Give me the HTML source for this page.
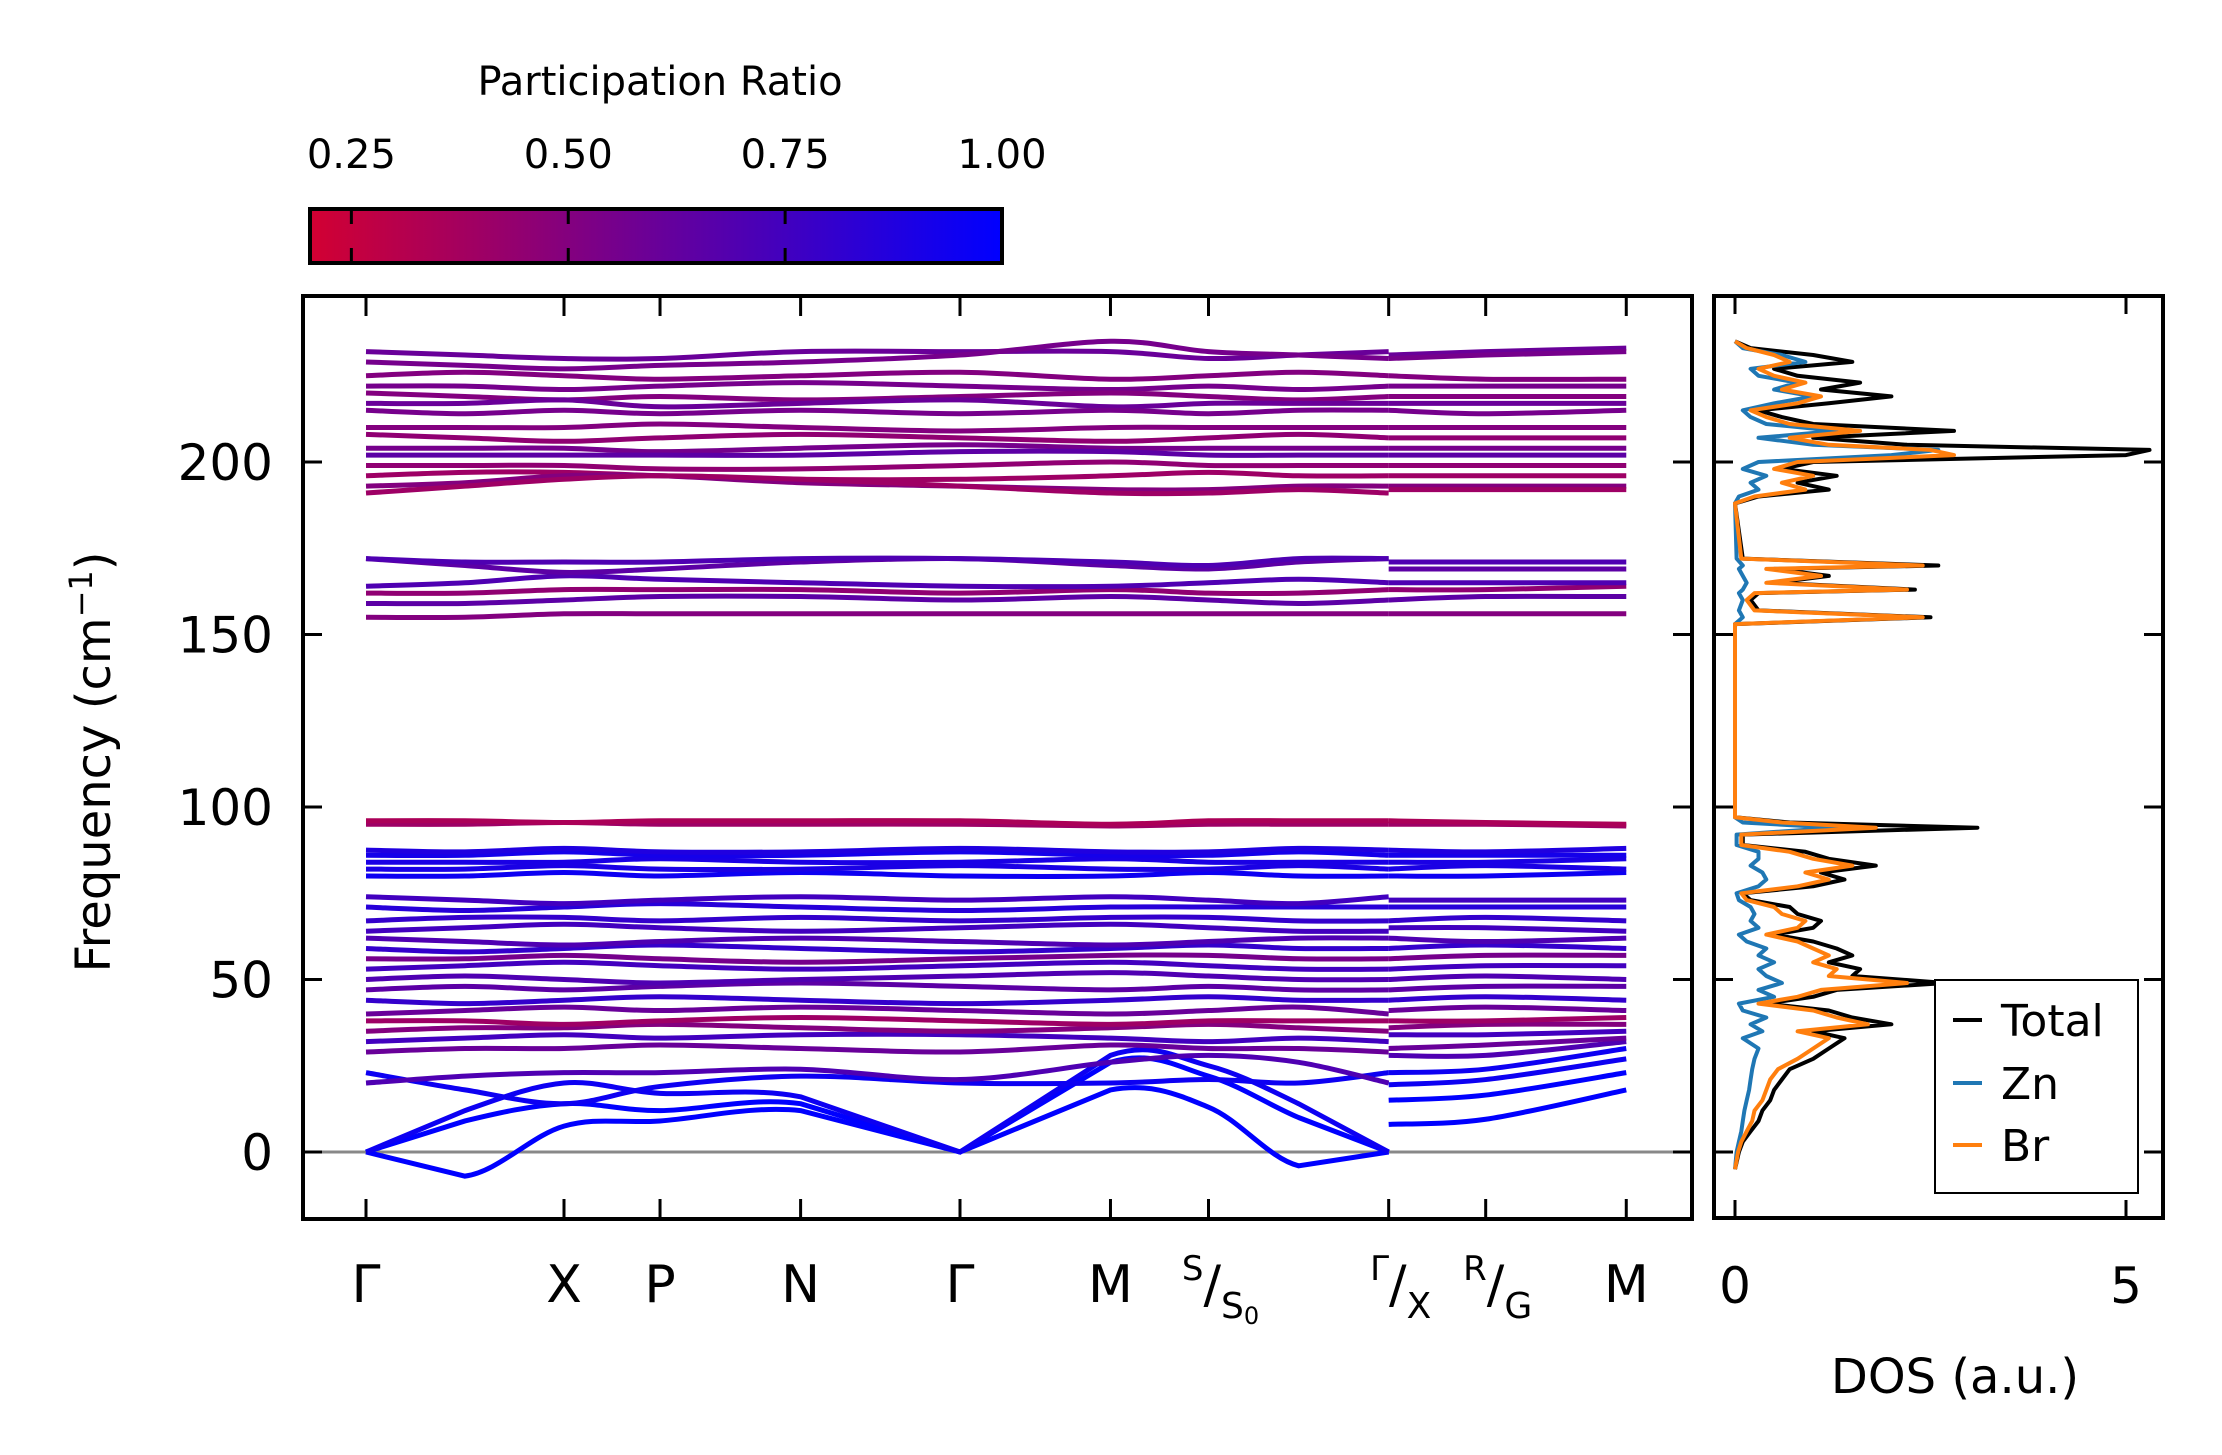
<!DOCTYPE html>
<html><head><meta charset="utf-8"><style>
html,body{margin:0;padding:0;background:#fff}
svg{display:block}
text{font-family:"DejaVu Sans","Liberation Sans",sans-serif;fill:#000}
</style></head><body>
<svg id="fig" width="2222" height="1455" viewBox="0 0 2222 1455" xmlns="http://www.w3.org/2000/svg">
<defs>
<linearGradient id="cbgrad" x1="0" x2="1" y1="0" y2="0">
<stop offset="0" stop-color="rgb(210,0,50)"/><stop offset="1" stop-color="rgb(0,0,255)"/>
</linearGradient>
<clipPath id="mainclip"><rect x="303" y="296" width="1389" height="923"/></clipPath>
<clipPath id="dosclip"><rect x="1714" y="296" width="449" height="922"/></clipPath>
</defs>
<g id="colorbar">
<text x="660" y="95" font-size="40" text-anchor="middle">Participation Ratio</text>
<rect x="310" y="209" width="692" height="54" fill="url(#cbgrad)" stroke="#000" stroke-width="4"/>
</g>
<g id="main">
<g id="bands" clip-path="url(#mainclip)"></g>
<rect x="303" y="296" width="1389" height="923" fill="none" stroke="#000" stroke-width="4"/>
<text transform="translate(110,762) rotate(-90)" font-size="48" text-anchor="middle">Frequency (cm<tspan dy="-18" font-size="32">−1</tspan><tspan dy="18">)</tspan></text>
</g>
<g id="dos">
<g id="doslines" clip-path="url(#dosclip)"></g>
<rect x="1714" y="296" width="449" height="922" fill="none" stroke="#000" stroke-width="4"/>
<text x="1955" y="1393" font-size="48" text-anchor="middle">DOS (a.u.)</text>
<g>
<rect x="1935" y="980" width="203" height="213" fill="#fff" stroke="#000" stroke-width="2"/>
<line x1="1953" x2="1982" y1="1020" y2="1020" stroke="#000" stroke-width="4"/>
<text x="2001" y="1036" font-size="44">Total</text>
<line x1="1953" x2="1982" y1="1083" y2="1083" stroke="#1f77b4" stroke-width="4"/>
<text x="2001" y="1099" font-size="44">Zn</text>
<line x1="1953" x2="1982" y1="1145" y2="1145" stroke="#ff7f0e" stroke-width="4"/>
<text x="2001" y="1161" font-size="44">Br</text>
</g>
</g>
</svg>
<script>
const cbTicks = [0.25, 0.5, 0.75, 1.0];
const cbTickLabels = ["0.25", "0.50", "0.75", "1.00"];
const yTicks = [0, 50, 100, 150, 200];
const kLabels = ["Γ", "X", "P", "N", "Γ", "M", "S/S0", "Γ/X", "R/G", "M"];
const kTickPos = [0, 1.0, 1.485, 2.195, 3.0, 3.76, 4.255, 5.165, 5.655, 6.365];
const path1K = [0, 0.5, 1.0, 1.485, 2.195, 3.0, 3.76, 4.255, 4.71, 5.165];
const path2K = [5.165, 5.655, 6.365];
const bandFreqs = [
[0,-7,7.5,9,12,0,18,13,-4,0, 8,9.5,18],
[0,9,14,12,14,0,26,22,10,0, 15,16.5,23],
[0,12,20,17,16,0,28,25,14,0, 19.5,21,27],
[23,18,14,19,22,20,20,21,20,23, 23,24,30],
[20,22,23,23,24,21,26,28,26,20, 28,28,32],
[29,30,30,31,30,29,31,30,30,29, 30,31,33],
[32,33,34,33,34,34,33,32,33,32, 34,34,35],
[35,36,36,37,36,35,36,37,36,35, 36,37,37],
[38,38,37,38,39,38,37,38,38,38, 38,38,39],
[40,41,42,41,42,41,40,41,42,40, 41,42,41],
[44,43,44,45,44,43,44,45,44,44, 44,45,44],
[47,48,47,48,49,48,47,48,47,47, 47,48,48],
[50,51,50,49,50,51,52,51,50,50, 50,51,50],
[53,54,55,54,53,54,55,54,53,53, 53,54,54],
[56,56,57,56,55,56,57,57,56,56, 56,57,57],
[59,58,59,60,59,58,59,60,59,59, 59,60,59],
[62,61,60,61,62,61,60,61,62,62, 62,61,62],
[64,65,66,65,64,65,66,65,64,64, 65,65,64],
[67,68,68,67,68,67,68,68,67,67, 67,68,67],
[71,70,71,72,71,70,71,71,71,71, 71,71,71],
[74,73,72,73,74,73,74,73,72,74, 73,73,73],
[80,80,81,80,81,80,80,81,80,80, 80,80,81],
[82,82,83,82,82,83,82,82,83,82, 82,83,82],
[84,84,84,85,84,84,85,84,84,84, 84,84,85],
[86,86,87,86,86,87,86,86,87,86, 86,86,86],
[87.5,87,88,87,87,88,87,87,88,87.5, 87.5,87,88],
[95,95,95.5,95,95,95,94.5,95,95,95, 95,95,94.5],
[96,96,95.5,96,96,96,95,96,96,96, 96,95.5,95],
[155,155,156,156,156,156,156,156,156,156, 156,156,156],
[159,159,160,161,161,160,161,160,159,160, 160,161,161],
[162,162,163,163,163,162,163,162,162,163, 163,163,164],
[164,165,167,166,165,164,164,165,166,165, 165,165,165],
[172,170,168,169,171,172,170,169,171,172, 169,169,169],
[172,171,171,171,172,172,171,170,172,172, 171,171,171],
[232,231,230,230,232,232,232,230,231,232, 231,232,233],
[229,228,227,228,229,231,235,232,231,230, 230,231,232],
[225,226,225,224,225,226,224,225,226,225, 225,224,224],
[222,222,221,222,223,222,221,222,221,222, 222,222,222],
[220,219,218,219,218,219,220,219,218,219, 219,219,219],
[217,217,218,216,217,218,216,217,217,217, 217,217,217],
[215,214,215,214,215,214,215,214,215,215, 215,214,215],
[210,210,210,211,210,209,210,210,210,210, 210,210,210],
[208,207,206,207,208,207,206,207,208,207, 207,207,207],
[204,204,204,203,204,205,204,204,204,204, 204,204,204],
[202,202,202,202,202,203,203,202,202,202, 202,202,202],
[199,199,199,198,198,199,200,199,199,199, 199,199,199],
[196,197,197,196,195,195,196,197,196,196, 196,196,196],
[193,194,196,196,194,193,192,192,193,193, 193,193,193],
[191,193,195,196,195,193,191,191,192,191, 192,192,192]
];
const bandPR = [1.0,1.0,0.95,0.95,0.7,0.6,0.75,0.5,0.4,0.6,0.8,0.65,0.7,0.75,0.55,0.8,0.7,0.75,0.8,0.85,0.75,
0.95,0.9,0.9,0.92,0.88,0.4,0.35,0.5,0.65,0.45,0.7,0.65,0.7,
0.6,0.55,0.5,0.55,0.5,0.6,0.55,0.5,0.45,0.55,0.65,0.45,0.4,0.5,0.4];
const dosFreq = [-5,0,3,6,9,12,15,18,21,24,27,30,33,35,37,39,41,43,45,47,49,51,53,55,57,59,61,63,65,67,69,71,73,75,77,79,81,83,85,87,89,92,94,95.5,97,153,155,157,160,162,163,165,167,169,170,172,188,190,192,194,196,198,200,202,203.5,205,207,209,211,213,215,217,219,221,223,225,227,229,231,233,235];
const dosTotal = [0,0.05,0.1,0.2,0.3,0.35,0.45,0.5,0.6,0.7,1.0,1.2,1.4,1.0,2.0,1.5,1.2,0.4,1.0,1.3,2.7,1.5,1.6,1.2,1.5,1.3,1.0,0.5,1.0,1.1,0.8,0.7,0.2,0.1,1.0,1.4,1.1,1.8,1.2,0.9,0.1,0.1,3.1,0.7,0, 0,2.5,0.3,0.2,0.3,2.3,0.5,1.2,0.5,2.6,0.1, 0,0.3,1.2,0.8,1.3,0.6,1.0,5.0,5.3,2.2,1.0,2.8,1.0,0.6,0.3,1.2,2.0,1.1,1.6,0.8,0.5,1.5,1.0,0.2,0];
const dosZn = [0,0.02,0.05,0.08,0.1,0.12,0.15,0.18,0.2,0.22,0.25,0.3,0.1,0.35,0.2,0.4,0.1,0.05,0.5,0.3,0.6,0.4,0.3,0.5,0.3,0.4,0.15,0.05,0.3,0.2,0.25,0.2,0.05,0.02,0.3,0.4,0.35,0.2,0.3,0.3,0.02,0.02,1.3,0.1,0, 0,0.1,0.05,0.1,0.05,0.1,0.15,0.1,0.05,0.1,0.02, 0,0.05,0.3,0.2,0.4,0.1,0.3,2.0,2.6,1.0,0.3,1.3,0.4,0.2,0.1,0.5,1.0,0.5,0.8,0.3,0.2,0.9,0.6,0.1,0];
const dosBr = [0,0.04,0.08,0.15,0.22,0.25,0.35,0.4,0.45,0.55,0.8,1.0,1.2,0.8,1.7,1.3,1.0,0.3,0.8,1.1,2.2,1.2,1.3,1.0,1.2,1.0,0.8,0.4,0.8,0.9,0.6,0.5,0.15,0.08,0.8,1.2,0.9,1.5,1.0,0.7,0.08,0.08,1.8,0.6,0, 0,2.4,0.25,0.15,0.25,2.2,0.4,1.1,0.4,2.4,0.08, 0,0.25,0.9,0.6,1.0,0.5,0.8,2.8,2.5,1.2,0.7,1.6,0.7,0.4,0.2,0.8,1.1,0.6,0.9,0.5,0.3,0.7,0.5,0.15,0];
const dosXTicks = [0, 5];

const NS = "http://www.w3.org/2000/svg";
const yPx = f => 1152 - f * 3.45;
const kPx = k => 366 + k * 198;
const dosX = v => 1735 + v * 78.2;
const cbX = v => 308 + (v - 0.2) / 0.8 * 694;
function prColor(p){ const t = Math.max(0, Math.min(1, (p - 0.2) / 0.8)); return `rgb(${Math.round(210*(1-t))},0,${Math.round(50+205*t)})`; }
function mk(tag, attrs, parent){ const e = document.createElementNS(NS, tag); for (const k in attrs) e.setAttribute(k, attrs[k]); parent.appendChild(e); return e; }
function smoothPath(pts, vals){
  let d = `M${pts[0][0]},${pts[0][1]}`;
  for (let i = 0; i < pts.length - 1; i++){
    const p1 = pts[i], p2 = pts[i+1];
    if (vals[i] === 0 || vals[i+1] === 0){ d += ` L${p2[0]},${p2[1]}`; continue; }
    const p0 = pts[Math.max(0,i-1)], p3 = pts[Math.min(pts.length-1,i+2)];
    const c1 = [p1[0] + (p2[0]-p0[0])/6, p1[1] + (p2[1]-p0[1])/6];
    const c2 = [p2[0] - (p3[0]-p1[0])/6, p2[1] - (p3[1]-p1[1])/6];
    d += ` C${c1[0]},${c1[1]} ${c2[0]},${c2[1]} ${p2[0]},${p2[1]}`;
  }
  return d;
}
const cb = document.getElementById('colorbar');
cbTicks.forEach((v,i) => {
  const x = cbX(v);
  if (v < 1){
    const t1 = mk('line', {x1:x,x2:x,y1:209,y2:224,stroke:'#000','stroke-width':3}, cb);
    
    
    const t2 = mk('line', {x1:x,x2:x,y1:248,y2:263,stroke:'#000','stroke-width':3}, cb);
    
    
  }
  const lb = mk('text', {x:x,y:168,'font-size':40,'text-anchor':'middle'}, cb);
  lb.textContent = cbTickLabels[i];
  
  
});
const main = document.getElementById('main');
const bandsG = document.getElementById('bands');
const zl = mk('line', {x1:303,x2:1692,y1:yPx(0),y2:yPx(0),stroke:'#888','stroke-width':3}, bandsG);


bandFreqs.forEach((row,bi) => {
  const c = prColor(bandPR[bi]);
  const v1 = row.slice(0,10), v2 = row.slice(10);
  const p1 = path1K.map((k,i) => [kPx(k), yPx(v1[i])]);
  const p2 = path2K.map((k,i) => [kPx(k), yPx(v2[i])]);
  const a = mk('path', {d:smoothPath(p1,v1),fill:'none',stroke:c,'stroke-width':5}, bandsG);
  
  
  const b = mk('path', {d:smoothPath(p2,v2),fill:'none',stroke:c,'stroke-width':5}, bandsG);
  
  
});
yTicks.forEach(v => {
  const y = yPx(v);
  const t = mk('line', {x1:303,x2:322,y1:y,y2:y,stroke:'#000','stroke-width':3}, main);
  
  
  const t2 = mk('line', {x1:1673,x2:1692,y1:y,y2:y,stroke:'#000','stroke-width':3}, main);
  
  
  const lb = mk('text', {x:273,y:y+18,'font-size':50,'text-anchor':'end'}, main);
  lb.textContent = String(v);
  
  
});
kTickPos.forEach((k,i) => {
  const x = kPx(k);
  const t = mk('line', {x1:x,x2:x,y1:296,y2:316,stroke:'#000','stroke-width':3}, main);
  
  
  const t2 = mk('line', {x1:x,x2:x,y1:1199,y2:1219,stroke:'#000','stroke-width':3}, main);
  
  
  const lab = kLabels[i];
  const tx = mk('text', {x:x,y:1302,'font-size':52,'text-anchor':'middle'}, main);
  
  
  if (lab.includes('/')){
    const [sup, sub] = lab.split('/');
    const s1 = mk('tspan', {'font-size':34,dy:-22}, tx); s1.textContent = sup;
    const s2 = mk('tspan', {'font-size':52,dy:22}, tx); s2.textContent = '/';
    if (sub === 'S0'){
      const s3 = mk('tspan', {'font-size':36,dy:16}, tx); s3.textContent = 'S';
      const s4 = mk('tspan', {'font-size':24,dy:6}, tx); s4.textContent = '0';
    } else {
      const s3 = mk('tspan', {'font-size':36,dy:16}, tx); s3.textContent = sub;
    }
    tx.setAttribute('x', x + 12);
  } else tx.textContent = lab;
});
const dosG = document.getElementById('doslines');
const dosPanel = document.getElementById('dos');
function dosLine(vals, color, name){
  const pts = dosFreq.map((f,i) => `${dosX(vals[i]).toFixed(1)},${yPx(f).toFixed(1)}`).join(' ');
  const pl = mk('polyline', {points:pts,fill:'none',stroke:color,'stroke-width':4,'stroke-linejoin':'round'}, dosG);
  
  
}
dosLine(dosTotal, '#000', 'dos-total-line');
dosLine(dosZn, '#1f77b4', 'dos-zn-line');
dosLine(dosBr, '#ff7f0e', 'dos-br-line');
yTicks.forEach(v => {
  const y = yPx(v);
  const t = mk('line', {x1:1714,x2:1733,y1:y,y2:y,stroke:'#000','stroke-width':3}, dosPanel);
  
  
  const t2 = mk('line', {x1:2144,x2:2163,y1:y,y2:y,stroke:'#000','stroke-width':3}, dosPanel);
  
  
});
dosXTicks.forEach(v => {
  const x = dosX(v);
  const t = mk('line', {x1:x,x2:x,y1:296,y2:314,stroke:'#000','stroke-width':3}, dosPanel);
  
  
  const t2 = mk('line', {x1:x,x2:x,y1:1200,y2:1218,stroke:'#000','stroke-width':3}, dosPanel);
  
  
  const lb = mk('text', {x:x,y:1303,'font-size':50,'text-anchor':'middle'}, dosPanel);
  lb.textContent = String(v);
  
  
});
</script>
</body></html>
